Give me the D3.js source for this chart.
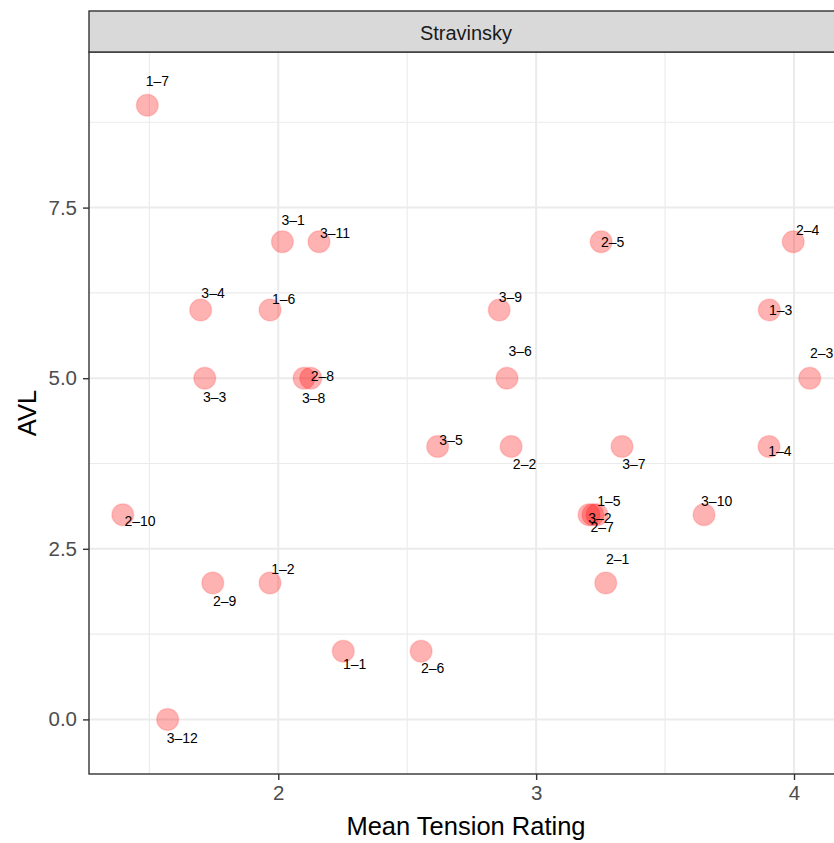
<!DOCTYPE html>
<html>
<head>
<meta charset="utf-8">
<script src="https://cdn.jsdelivr.net/npm/d3@7"></script>
<style>
  html, body { margin: 0; padding: 0; background: #ffffff; }
  svg { display: block; font-family: "Liberation Sans", Arial, Helvetica, sans-serif; }
</style>
</head>
<body>
<svg id="chart" width="834" height="843"></svg>
<script>
// Piece identifiers (movement–section) with their mean tension and AVL values
const pieceLabels = ["1–7", "3–1", "3–11", "2–5", "2–4", "3–4", "1–6", "3–9", "1–3",
  "3–3", "3–8", "2–8", "3–6", "2–3", "3–5", "2–2", "3–7", "1–4", "2–10",
  "1–5", "3–2", "2–7", "3–10", "2–1", "2–9", "1–2", "1–1", "2–6", "3–12"];
const tension = [1.492, 2.016, 2.158, 3.252, 3.997, 1.699, 1.968, 2.857, 3.904,
  1.715, 2.100, 2.126, 2.887, 4.061, 2.618, 2.903, 3.333, 3.903, 1.397,
  3.236, 3.205, 3.220, 3.651, 3.270, 1.746, 1.968, 2.252, 2.554, 1.571];
const avl = [9, 7, 7, 7, 7, 6, 6, 6, 6,
  5, 5, 5, 5, 5, 4, 4, 4, 4, 3,
  3, 3, 3, 3, 2, 2, 2, 1, 1, 0];

// Repelled label anchor positions, in data units
const labelTension = [1.531, 2.058, 2.220, 3.297, 4.053, 1.747, 2.021, 2.900, 3.948,
  1.753, 2.137, 2.171, 2.938, 4.107, 2.670, 2.955, 3.379, 3.945, 1.464,
  3.282, 3.247, 3.256, 3.700, 3.316, 1.792, 2.018, 2.296, 2.599, 1.628];
const labelAVL = [9.360, 7.319, 7.124, 7.001, 7.172, 6.245, 6.161, 6.190, 6.000,
  4.730, 4.715, 5.033, 5.395, 5.366, 4.095, 3.739, 3.744, 3.934, 2.913,
  3.201, 2.945, 2.825, 3.201, 2.347, 1.741, 2.201, 0.809, 0.750, -0.267];

const xTicks = [2, 3, 4];
const xMinorTicks = [1.5, 2.5, 3.5];
const yTicks = [0, 2.5, 5, 7.5];
const yMinorTicks = [1.25, 3.75, 6.25, 8.75];
const facetTitle = "Stravinsky";
const xTitle = "Mean Tension Rating";
const yTitle = "AVL";

const svg = d3.select("#chart");

const panel = { left: 89, right: 843, top: 52, bottom: 774 };
const stripTop = 11;

const x = d3.scaleLinear().domain([1.266, 4.19]).range([panel.left, panel.right]);
const y = d3.scaleLinear().domain([-0.80, 9.78]).range([panel.bottom, panel.top]);

// Panel background
svg.append("rect")
  .attr("x", panel.left).attr("y", panel.top)
  .attr("width", panel.right - panel.left).attr("height", panel.bottom - panel.top)
  .attr("fill", "#ffffff");

const grid = svg.append("g");
// Minor grid
grid.selectAll(".xminor").data(xMinorTicks).join("line")
  .attr("class", "xminor")
  .attr("x1", d => x(d)).attr("x2", d => x(d))
  .attr("y1", panel.top).attr("y2", panel.bottom)
  .attr("stroke", "#ebebeb").attr("stroke-width", 1.1);
grid.selectAll(".yminor").data(yMinorTicks).join("line")
  .attr("class", "yminor")
  .attr("y1", d => y(d)).attr("y2", d => y(d))
  .attr("x1", panel.left).attr("x2", panel.right)
  .attr("stroke", "#ebebeb").attr("stroke-width", 1.1);
// Major grid
grid.selectAll(".xmajor").data(xTicks).join("line")
  .attr("class", "xmajor")
  .attr("x1", d => x(d)).attr("x2", d => x(d))
  .attr("y1", panel.top).attr("y2", panel.bottom)
  .attr("stroke", "#ebebeb").attr("stroke-width", 2);
grid.selectAll(".ymajor").data(yTicks).join("line")
  .attr("class", "ymajor")
  .attr("y1", d => y(d)).attr("y2", d => y(d))
  .attr("x1", panel.left).attr("x2", panel.right)
  .attr("stroke", "#ebebeb").attr("stroke-width", 2);

// Points
const points = pieceLabels.map((lab, i) => ({
  label: lab, t: tension[i], v: avl[i], lt: labelTension[i], lv: labelAVL[i]
}));

svg.append("g").selectAll("circle").data(points).join("circle")
  .attr("cx", d => x(d.t))
  .attr("cy", d => y(d.v))
  .attr("r", 11)
  .attr("fill", "red")
  .attr("fill-opacity", 0.3)
  .attr("stroke", "red")
  .attr("stroke-opacity", 0.12)
  .attr("stroke-width", 1.5);

// Point labels
svg.append("g").selectAll("text").data(points).join("text")
  .attr("x", d => x(d.lt))
  .attr("y", d => y(d.lv))
  .attr("text-anchor", "middle")
  .attr("dominant-baseline", "central")
  .attr("font-size", 14)
  .attr("fill", "#000000")
  .text(d => d.label);

// Panel border
svg.append("rect")
  .attr("x", panel.left).attr("y", panel.top)
  .attr("width", panel.right - panel.left).attr("height", panel.bottom - panel.top)
  .attr("fill", "none").attr("stroke", "#333333").attr("stroke-width", 1.4);

// Facet strip
svg.append("rect")
  .attr("x", panel.left).attr("y", stripTop)
  .attr("width", panel.right - panel.left).attr("height", panel.top - stripTop)
  .attr("fill", "#d9d9d9").attr("stroke", "#333333").attr("stroke-width", 1.4);
svg.append("text")
  .attr("x", (panel.left + panel.right) / 2)
  .attr("y", (stripTop + panel.top) / 2 + 1)
  .attr("text-anchor", "middle")
  .attr("dominant-baseline", "central")
  .attr("font-size", 20)
  .attr("fill", "#1a1a1a")
  .text(facetTitle);

// Axes
const xAxis = d3.axisBottom(x).tickValues(xTicks).tickFormat(d3.format("d"))
  .tickSize(6).tickPadding(5);
const gx = svg.append("g").attr("transform", `translate(0,${panel.bottom})`).call(xAxis);
gx.select(".domain").remove();
gx.selectAll(".tick line").attr("stroke", "#333333").attr("stroke-width", 1.4);
gx.selectAll(".tick text").attr("font-size", 20.5).attr("fill", "#4d4d4d")
  .attr("font-family", "Liberation Sans, Arial, sans-serif");

const yAxis = d3.axisLeft(y).tickValues(yTicks).tickFormat(d3.format(".1f"))
  .tickSize(6).tickPadding(6);
const gy = svg.append("g").attr("transform", `translate(${panel.left},0)`).call(yAxis);
gy.select(".domain").remove();
gy.selectAll(".tick line").attr("stroke", "#333333").attr("stroke-width", 1.4);
gy.selectAll(".tick text").attr("font-size", 20.5).attr("fill", "#4d4d4d")
  .attr("font-family", "Liberation Sans, Arial, sans-serif");

// Axis titles
svg.append("text")
  .attr("x", (panel.left + panel.right) / 2)
  .attr("y", 835)
  .attr("text-anchor", "middle")
  .attr("font-size", 25.5)
  .attr("fill", "#000000")
  .text(xTitle);
svg.append("text")
  .attr("transform", `translate(36,${(panel.top + panel.bottom) / 2}) rotate(-90)`)
  .attr("text-anchor", "middle")
  .attr("font-size", 25.5)
  .attr("fill", "#000000")
  .text(yTitle);
</script>
</body>
</html>
